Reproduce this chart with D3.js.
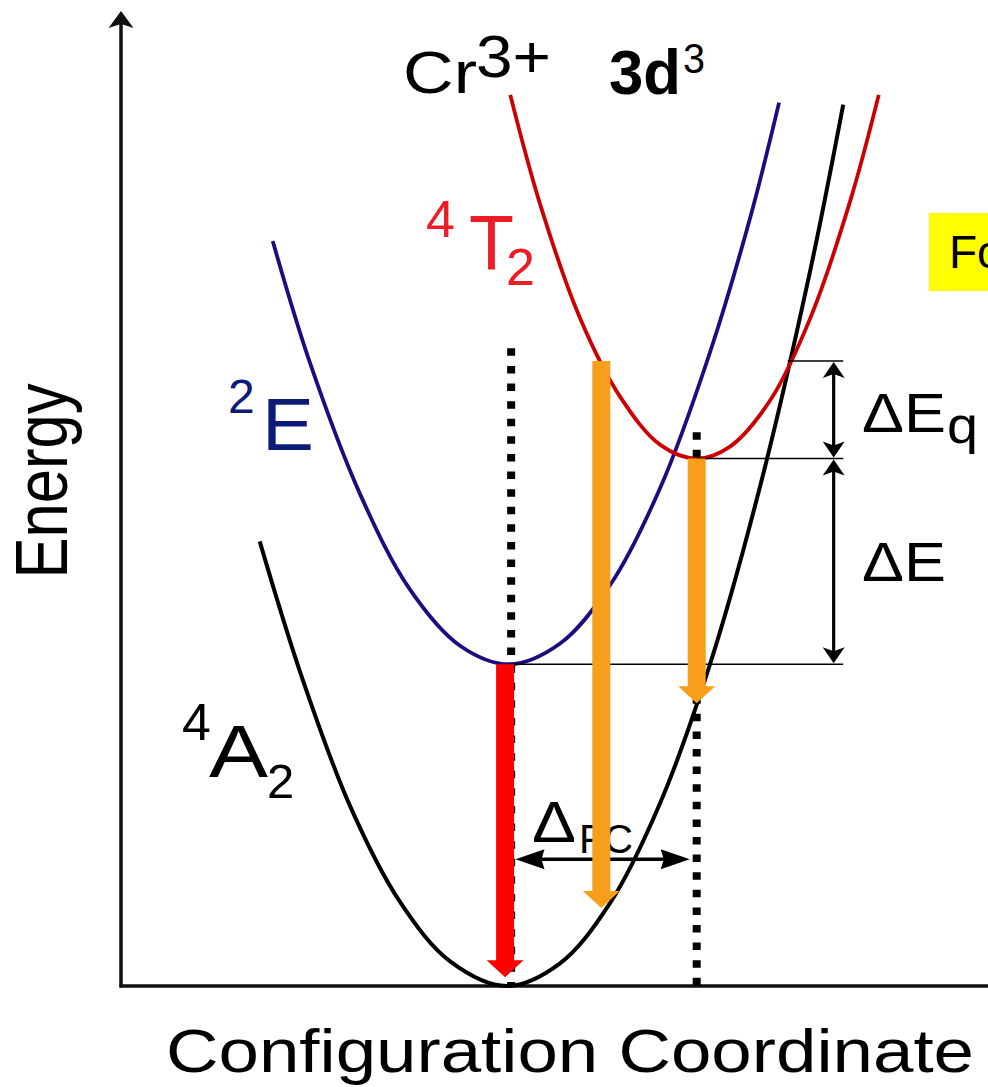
<!DOCTYPE html>
<html><head><meta charset="utf-8">
<script src="https://cdn.jsdelivr.net/npm/d3@7"></script>
<style>html,body{margin:0;padding:0;background:#fff;}svg{display:block;}text{font-family:"Liberation Sans",Arial,sans-serif;}</style>
</head><body>
<script>
// ---- data (configuration coordinate q, energy E; arbitrary units) ----
const curve4A2 = [[1.60,4.56],[2.07,3.21],[2.64,1.85],[3.22,0.86],[3.80,0.25],[4.45,0.00],[5.06,0.23],[5.64,0.85],[6.22,1.88],[6.79,3.29],[7.37,5.12],[7.95,7.34],[8.33,9.04]];
const curve2E  = [[1.75,7.64],[2.18,6.39],[2.76,5.04],[3.33,4.07],[3.91,3.49],[4.48,3.30],[5.06,3.51],[5.64,4.11],[6.22,5.11],[6.79,6.49],[7.26,7.89],[7.59,9.06]];
const curve4T2 = [[4.49,9.14],[4.83,8.03],[5.29,6.86],[5.76,6.04],[6.22,5.55],[6.64,5.41],[7.02,5.53],[7.49,6.01],[7.95,6.85],[8.41,8.05],[8.74,9.14]];
const dottedQ   = [4.50, 6.64];
const dottedTop = [6.54, 5.68];
const levelStartQ = [7.69, 6.64, 4.48];
const levelE      = [6.41, 5.41, 3.30];
const levelEndQ   = 8.33;
const arrowQ    = [4.43, 5.54, 6.64];
const arrowFrom = [3.30, 6.41, 5.41];
const arrowTo   = [0.09, 0.80, 2.90];
const arrowColor = ["#ff0000", "#f89e1b", "#f89e1b"];
const gapQ = 8.22;                 // vertical double arrows (ΔEq, ΔE)
const gapE = [[6.41,5.41],[5.41,3.30]];
const fcE = 1.30, fcQ = [4.55, 6.56];   // ΔFC double arrow

const W = 988, H = 1087;
const svg = d3.select("body").append("svg").attr("width", W).attr("height", H);
const xS = d3.scaleLinear().domain([0,10]).range([121,988]);
const yS = d3.scaleLinear().domain([0,10]).range([986,11]);

// axes
svg.append("line").attr("x1", xS(0)).attr("x2", xS(0)).attr("y1", yS(0)+1.5).attr("y2", yS(10)+8)
  .attr("stroke","#111").attr("stroke-width",3.5);
svg.append("line").attr("x1", xS(0)-1.5).attr("x2", xS(10)).attr("y1", yS(0)).attr("y2", yS(0))
  .attr("stroke","#111").attr("stroke-width",3.5);
{ const x = xS(0), t = yS(10);
  svg.append("path").attr("d", `M${x},${t} L${x-12.5},${t+17} L${x},${t+13} L${x+12.5},${t+17} Z`).attr("fill","#111"); }

const line = d3.line().x(d=>xS(d[0])).y(d=>yS(d[1])).curve(d3.curveCatmullRom.alpha(0.5));
svg.append("path").attr("d", line(curve4A2)).attr("fill","none").attr("stroke","#000").attr("stroke-width",4);
svg.append("path").attr("d", line(curve2E)).attr("fill","none").attr("stroke","#1c0c80").attr("stroke-width",3.8);
svg.append("path").attr("d", line(curve4T2)).attr("fill","none").attr("stroke","#cc0000").attr("stroke-width",3.8);

// dotted verticals
dottedQ.forEach((q,i)=>{
  svg.append("line").attr("x1", xS(q)).attr("x2", xS(q)).attr("y1", yS(dottedTop[i])).attr("y2", yS(0))
    .attr("stroke","#000").attr("stroke-width",8).attr("stroke-dasharray","7.5 10.1");
});

// level lines
levelE.forEach((e,i)=>{
  svg.append("line").attr("x1", xS(levelStartQ[i])).attr("x2", xS(levelEndQ)).attr("y1", yS(e)).attr("y2", yS(e))
    .attr("stroke","#000").attr("stroke-width",1.6);
});

// vertical double arrows
function headV(x, tipY, dir){ // dir=-1 pointing up, +1 pointing down
  const b = tipY - dir*16, n = tipY - dir*12;
  return `M${x},${tipY} L${x-11},${b} L${x},${n} L${x+11},${b} Z`;
}
gapE.forEach(([a,b])=>{
  const x = xS(gapQ), y1 = yS(a)+1, y2 = yS(b)-1;
  svg.append("line").attr("x1",x).attr("x2",x).attr("y1",y1+8).attr("y2",y2-8).attr("stroke","#000").attr("stroke-width",3.2);
  svg.append("path").attr("d", headV(x, y1, -1)).attr("fill","#000");
  svg.append("path").attr("d", headV(x, y2, 1)).attr("fill","#000");
});

// ΔFC horizontal double arrow
{ const y = yS(fcE), x1 = xS(fcQ[0]), x2 = xS(fcQ[1]);
  svg.append("line").attr("x1",x1+10).attr("x2",x2-10).attr("y1",y).attr("y2",y).attr("stroke","#000").attr("stroke-width",3.5);
  svg.append("path").attr("d",`M${x1},${y} L${x1+29},${y-10} L${x1+26},${y} L${x1+29},${y+10} Z`).attr("fill","#000");
  svg.append("path").attr("d",`M${x2},${y} L${x2-29},${y-10} L${x2-26},${y} L${x2-29},${y+10} Z`).attr("fill","#000");
}

// labels
function txt(s, x, y, size, opts={}){
  const t = svg.append("text").attr("x",x).attr("y",y).attr("font-size",size).attr("fill",opts.fill||"#000").text(s);
  if(opts.weight) t.attr("font-weight",opts.weight);
  if(opts.len){ t.attr("textLength",opts.len).attr("lengthAdjust","spacingAndGlyphs"); }
  if(opts.anchor) t.attr("text-anchor",opts.anchor);
  return t;
}
// ΔFC label (partly hidden under the orange arrow)
txt("\u0394", 532, 842, 58, {len:44});
txt("FC", 579, 853, 40, {len:54});

// transition arrows (thick)
arrowQ.forEach((q,i)=>{
  const x = xS(q), top = yS(arrowFrom[i]), tip = yS(arrowTo[i]);
  svg.append("rect").attr("x",x-9).attr("y",top).attr("width",18).attr("height",tip-17-top+1).attr("fill",arrowColor[i]);
  svg.append("path").attr("d",`M${x-18.5},${tip-17} L${x+18.5},${tip-17} L${x},${tip} Z`).attr("fill",arrowColor[i]);
});

// title labels
txt("Cr", 403, 93, 60, {len:74});
txt("3+", 476, 77, 60, {len:75});
txt("3d", 609, 94, 63, {weight:"bold", len:72});
txt("3", 683, 73, 42, {len:22});

// state labels
txt("4", 426, 237, 52, {fill:"#ee1c25"});
txt("T", 469, 270, 77, {fill:"#ee1c25", len:45});
txt("2", 506, 285, 52, {fill:"#ee1c25"});

txt("2", 228, 413, 48, {fill:"#0c1a78"});
txt("E", 262, 450, 75, {fill:"#0c1a78", len:52});

txt("4", 182, 740, 52);
txt("A", 209, 777, 75, {len:59});
txt("2", 267, 798, 49);

txt("\u0394E", 862, 432, 56, {len:84});
txt("q", 947, 443, 52, {len:31});
txt("\u0394E", 862, 581, 56, {len:84});

// yellow note box (cut at the right edge)
svg.append("rect").attr("x",929).attr("y",213).attr("width",70).attr("height",78).attr("fill","#ffff00");
txt("Fo", 949, 268, 46);

// axis titles
svg.append("text").attr("transform","translate(67,481) rotate(-90)").attr("text-anchor","middle")
  .attr("font-size",75).attr("textLength",195).attr("lengthAdjust","spacingAndGlyphs").attr("fill","#000").text("Energy");
txt("Configuration Coordinate", 166, 1072, 61, {len:808});
</script>
</body></html>
